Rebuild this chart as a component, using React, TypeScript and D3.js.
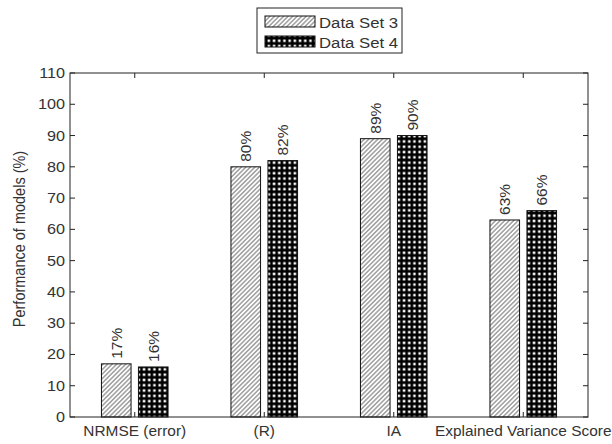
import React from "react";
import * as d3 from "d3";

const categories = ["NRMSE (error)", "(R)", "IA", "Explained Variance Score"];
const set3 = [17, 80, 89, 63];
const set4 = [16, 82, 90, 66];
const seriesNames = ["Data Set 3", "Data Set 4"];
const yTicks = [0, 10, 20, 30, 40, 50, 60, 70, 80, 90, 100, 110];

const W = 612;
const H = 444;
const left = 70, right = 588, top = 73, bottom = 417;
const FONT = "'Liberation Sans', Arial, Helvetica, sans-serif";
const TXT = "#333";
const SX = 1.08;

function SText(props: { x: number; y: number; anchor?: string; size: number; sx?: number; children: React.ReactNode }) {
  const { x, y, anchor, size, sx, children } = props;
  return (
    <text
      transform={`translate(${x},${y}) scale(${sx ?? SX},1)`}
      textAnchor={anchor ?? "start"}
      fontFamily={FONT}
      fontSize={size}
      fill={TXT}
    >{children}</text>
  );
}

export default function App() {
  const x = d3.scaleLinear().domain([0.5, categories.length + 0.5]).range([left, right]);
  const y = d3.scaleLinear().domain([0, 110]).range([bottom, top]);
  const groupWidth = Math.min(0.8, 2 / 3.5);
  const offset = groupWidth / 4;
  const barW = (groupWidth / 2) * 0.8;
  const bw = x(barW) - x(0);
  const series = [set3, set4];
  const fills = ["url(#hatch)", "url(#dots)"];

  return (
    <svg width={W} height={H} style={{ position: "absolute", left: 0, top: 0, background: "#fff" }}>
      <defs>
        <pattern id="hatch" patternUnits="userSpaceOnUse" width={3.2} height={3.2} patternTransform="rotate(45)">
          <rect width={3.2} height={3.2} fill="#fff" />
          <line x1={0.8} y1={0} x2={0.8} y2={3.2} stroke="#7a7a7a" strokeWidth={1.1} />
        </pattern>
        <pattern id="dots" patternUnits="userSpaceOnUse" width={5.2} height={5.3} x={1} y={1}>
          <rect width={5.2} height={5.3} fill="#000" />
          <rect x={1.4} y={1.4} width={2.5} height={2.5} fill="#fff" />
        </pattern>
      </defs>
      <rect x={0} y={0} width={W} height={H} fill="#fff" />

      {/* bars */}
      {series.map((vals, s) =>
        vals.map((v, i) => {
          const cx = x(i + 1 + (s === 0 ? -offset : offset));
          return (
            <g key={`b${s}-${i}`}>
              <rect x={cx - bw / 2} y={y(v)} width={bw} height={y(0) - y(v)} fill={fills[s]} stroke="#111" strokeWidth={1} />
              <text
                transform={`translate(${cx + 5.5},${y(v) - 5}) rotate(-90)`}
                fontFamily={FONT}
                fontSize={15.5}
                fill={TXT}
              >{`${v}%`}</text>
            </g>
          );
        })
      )}

      {/* axes box */}
      <rect x={left} y={top} width={right - left} height={bottom - top} fill="none" stroke="#222" strokeWidth={1} />
      {yTicks.map((t) => (
        <g key={`yt${t}`}>
          <line x1={left} x2={left + 5} y1={y(t)} y2={y(t)} stroke="#222" />
          <line x1={right - 5} x2={right} y1={y(t)} y2={y(t)} stroke="#222" />
          <SText x={left - 5} y={y(t) + 5} anchor="end" size={15}>{t}</SText>
        </g>
      ))}
      {categories.map((c, i) => (
        <g key={`xt${i}`}>
          <line x1={x(i + 1)} x2={x(i + 1)} y1={bottom} y2={bottom - 5} stroke="#222" />
          <line x1={x(i + 1)} x2={x(i + 1)} y1={top} y2={top + 5} stroke="#222" />
          <SText x={x(i + 1)} y={bottom + 19} anchor="middle" size={15} sx={1.03}>{c}</SText>
        </g>
      ))}
      <text
        transform={`translate(25,239) rotate(-90) scale(1,1.1)`}
        textAnchor="middle"
        fontFamily={FONT}
        fontSize={14.5}
        fill={TXT}
      >Performance of models (%)</text>

      {/* legend */}
      <rect x={257} y={8} width={145} height={45} fill="#fff" stroke="#222" strokeWidth={1} />
      {seriesNames.map((n, s) => (
        <g key={`lg${s}`}>
          <rect x={265} y={16 + s * 20} width={50} height={11} fill={fills[s]} stroke="#111" strokeWidth={1} />
          <SText x={319} y={27.5 + s * 20} size={15.5} sx={1.08}>{n}</SText>
        </g>
      ))}
    </svg>
  );
}
